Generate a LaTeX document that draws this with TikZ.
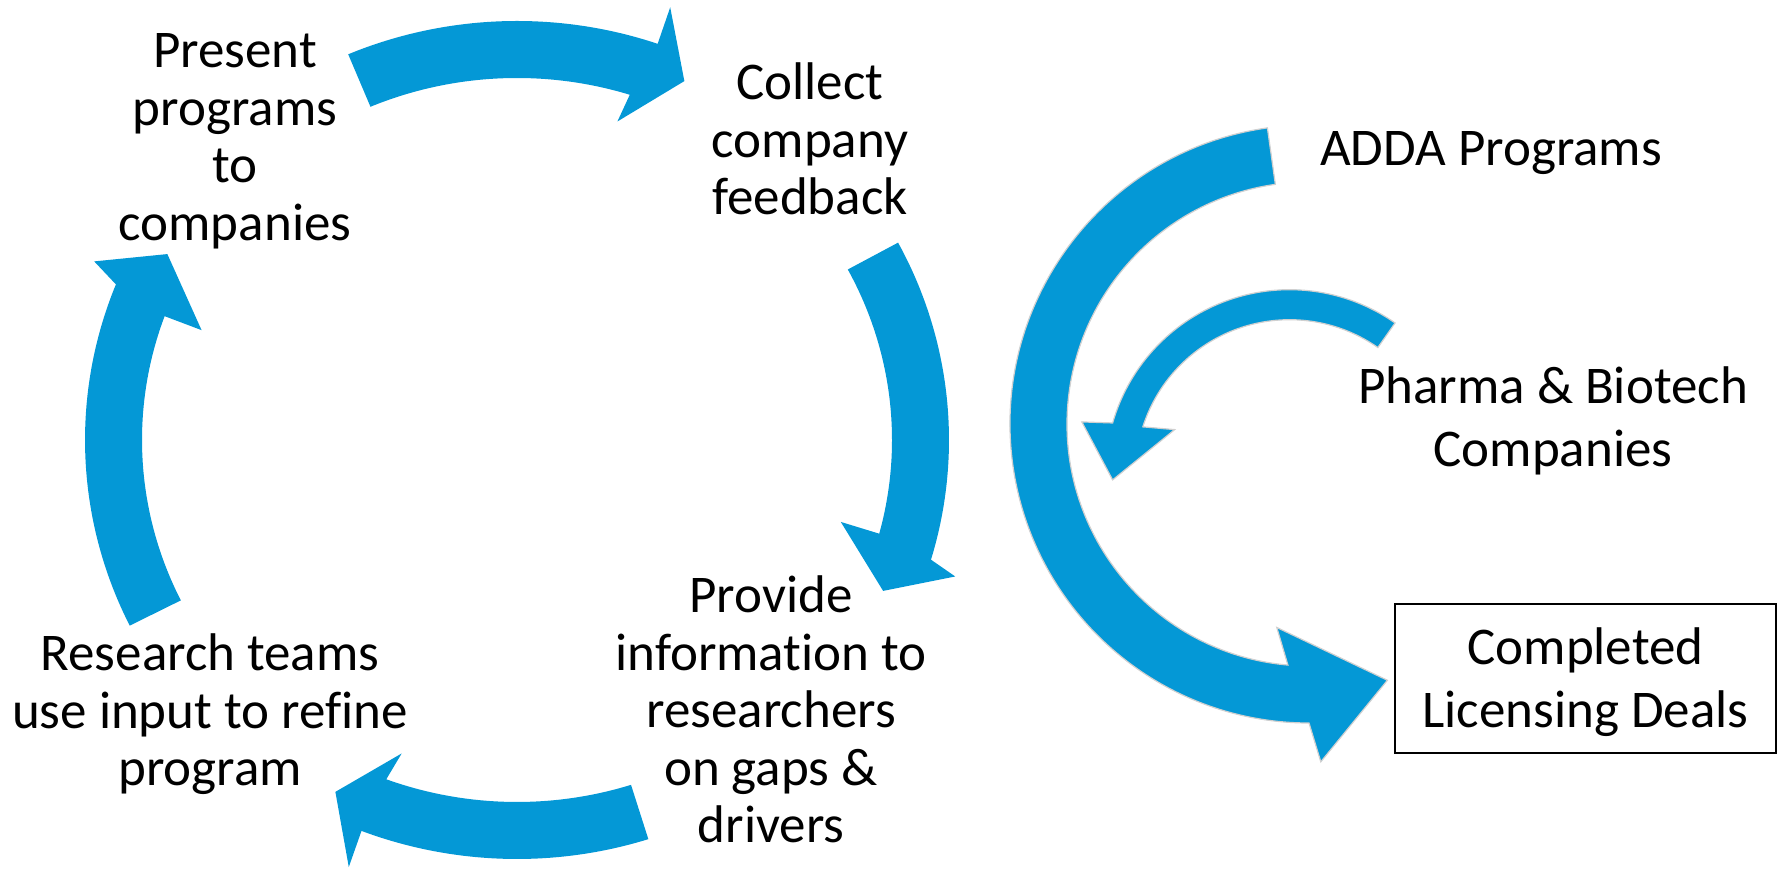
\documentclass[tikz,border=0pt]{standalone}
\usepackage{fontspec}
\setmainfont[Ligatures=NoCommon]{Carlito}
\definecolor{adblue}{RGB}{4,152,214}
\definecolor{arrowedge}{RGB}{208,208,208}
% centred stack of lines whose baseline is the first line's baseline
\newcommand{\linestack}[1]{\begin{tabular}[t]{@{}c@{}}#1\end{tabular}}
% curved block arrow on the feedback cycle, centred at (cyc):
% #1 tail angle, #2/#3 outer/inner notch, #4/#5 outer/inner barb, #6 tip
\newcommand{\cyclearrow}[6]{%
  \fill[cyclefill]
    ([shift={(cyc)}]#1:432pt and 419pt)
      arc[start angle=#1, end angle=#2, x radius=432pt, y radius=419pt]
    -- ([shift={(cyc)}]#4:459pt)
    -- ([shift={(cyc)}]#6:396pt)
    -- ([shift={(cyc)}]#5:334pt)
    -- ([shift={(cyc)}]#3:375pt and 362pt)
      arc[start angle=#3, end angle=#1, x radius=375pt, y radius=362pt]
    -- cycle;}
\begin{document}
\begin{tikzpicture}[x=1pt,y=1pt,
  cyclefill/.style={fill=adblue},
  sidearrow/.style={fill=adblue, draw=arrowedge, line width=1.2pt, line join=miter},
  steptext/.style={font=\fontsize{53}{57.5}\selectfont, inner sep=0pt, anchor=base},
  sidetext/.style={font=\fontsize{53}{63}\selectfont, inner sep=0pt, anchor=base},
  dealbox/.style={draw, line width=2pt, minimum width=381pt,
    text height=61pt, text depth=88pt, inner xsep=0pt, inner ysep=0pt}]
\useasboundingbox (0,0) rectangle (1779,869);

% ---- feedback cycle ----
\coordinate (cyc) at (517,429);
\cyclearrow{113}{71}{72.5}{70.5}{72.5}{65}
\cyclearrow{28.1}{-16.6}{-15}{-17.3}{-14.2}{-22.4}
\cyclearrow{287.7}{248.9}{249.6}{248.5}{249.8}{242.7}
\cyclearrow{206.3}{158.2}{160}{157.1}{160.8}{152}

\node[steptext] (present) at (235,801)
  {\linestack{Present\\programs\\to\\companies}};
\node[steptext] (collect) at (810,769)
  {\linestack{Collect\\company\\feedback}};
\node[steptext] (provide) at (771,256)
  {\linestack{Provide\\information to\\researchers\\on gaps \&\\drivers}};
\node[steptext] (research) at (210,198)
  {\linestack{Research teams\\use input to refine\\program}};

% ---- licensing flow ----
\coordinate (bigc) at (1309,445);
\coordinate (smallc) at (1289.5,395.3);

\filldraw[sidearrow]
  ([shift={(bigc)}]98:299pt) arc[start angle=98, end angle=270, radius=299pt]
  -- ([shift={(bigc)}]272:338pt)
  -- ([shift={(bigc)}]287:268pt)
  -- ([shift={(bigc)}]261:206pt)
  -- ([shift={(bigc)}]265:242pt) arc[start angle=265, end angle=98, radius=242pt]
  -- cycle;

\filldraw[sidearrow]
  ([shift={(smallc)}]55:184pt) arc[start angle=55, end angle=164, radius=184pt]
  -- ([shift={(smallc)}]166:214pt)
  -- ([shift={(smallc)}]182:177pt)
  -- ([shift={(smallc)}]159:123pt)
  -- ([shift={(smallc)}]162.3:154pt) arc[start angle=162.3, end angle=55, radius=154pt]
  -- cycle;

\node[sidetext] (adda) at (1491,703) {ADDA Programs};
\node[sidetext] (pharma) at (1553,465)
  {\linestack{Pharma \& Biotech\\Companies}};
\node[sidetext, dealbox] (deals) at (1585.5,204)
  {\linestack{Completed\\Licensing Deals}};
\end{tikzpicture}
\end{document}
